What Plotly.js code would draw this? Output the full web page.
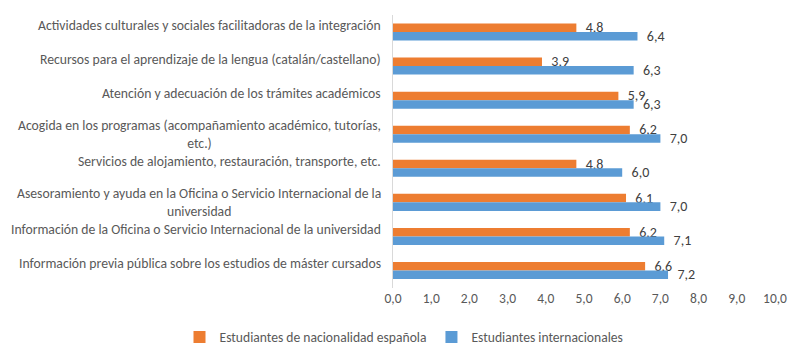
<!DOCTYPE html>
<html>
<head>
<meta charset="utf-8">
<script src="https://cdn.plot.ly/plotly-3.0.1.min.js"></script>
<style>html,body{margin:0;padding:0;background:#fff;}#chart{width:800px;height:350px;}</style>
</head>
<body>
<div id="chart"></div>
<script>
const categories = [
  "Actividades culturales y sociales facilitadoras de la integración",
  "Recursos para el aprendizaje de la lengua (catalán/castellano)",
  "Atención y adecuación de los trámites académicos",
  "Acogida en los programas (acompañamiento académico, tutorías, etc.)",
  "Servicios de alojamiento, restauración, transporte, etc.",
  "Asesoramiento y ayuda en la Oficina o Servicio Internacional de la universidad",
  "Información de la Oficina o Servicio Internacional de la universidad",
  "Información previa pública sobre los estudios de máster cursados"
];
const categoryLabels = [
  "Actividades culturales y sociales facilitadoras de la integración",
  "Recursos para el aprendizaje de la lengua (catalán/castellano)",
  "Atención y adecuación de los trámites académicos",
  "Acogida en los programas (acompañamiento académico, tutorías,<br>etc.)",
  "Servicios de alojamiento, restauración, transporte, etc.",
  "Asesoramiento y ayuda en la Oficina o Servicio Internacional de la<br>universidad",
  "Información de la Oficina o Servicio Internacional de la universidad",
  "Información previa pública sobre los estudios de máster cursados"
];
const seriesNames = ["Estudiantes de nacionalidad española", "Estudiantes internacionales"];
const spanish = [4.8, 3.9, 5.9, 6.2, 4.8, 6.1, 6.2, 6.6];
const international = [6.4, 6.3, 6.3, 7.0, 6.0, 7.0, 7.1, 7.2];
const xTicks = [0, 1, 2, 3, 4, 5, 6, 7, 8, 9, 10];

const FONT = "Carlito, Lato, 'Open Sans', sans-serif";
const barCommon = {
  type: 'bar', orientation: 'h',
  textposition: 'outside', constraintext: 'none', cliponaxis: false,
  texttemplate: '\u00a0\u00a0%{x:.1f}',
  textfont: {family: FONT, size: 14, color: '#404040'},
  hoverinfo: 'none'
};
const traces = [
  Object.assign({}, barCommon, {name: seriesNames[0], y: categories, x: spanish, marker: {color: '#ED7D31'}}),
  Object.assign({}, barCommon, {name: seriesNames[1], y: categories, x: international, marker: {color: '#5B9BD5'}})
];

const annotations = categories.map((c, i) => ({
  xref: 'x', yref: 'y', x: 0, y: c,
  text: categoryLabels[i], showarrow: false,
  xanchor: 'right', yanchor: 'middle', align: 'center',
  xshift: -10, yshift: categoryLabels[i].includes('<br>') ? 0 : 7,
  font: {family: FONT, size: 13.7, color: '#595959'}
}));

const layout = {
  width: 800, height: 350,
  margin: {l: 0, r: 0, t: 15, b: 62},
  paper_bgcolor: '#ffffff', plot_bgcolor: '#ffffff',
  separators: ',.',
  barmode: 'group', bargap: 0.5, bargroupgap: 0,
  font: {family: FONT, color: '#595959'},
  xaxis: {
    domain: [393 / 800, 775 / 800],
    range: [0, 10], tickvals: xTicks, tickformat: '.1f',
    showgrid: false, zeroline: false, showline: false, ticks: '',
    tickfont: {family: FONT, size: 13.5, color: '#595959'}, fixedrange: true
  },
  yaxis: {
    autorange: 'reversed', type: 'category',
    showticklabels: false, showgrid: false, zeroline: false,
    showline: true, linecolor: '#d9d9d9', linewidth: 1, ticks: '', fixedrange: true
  },
  showlegend: true,
  legend: {
    orientation: 'h', xref: 'container', yref: 'container',
    x: 0.505, xanchor: 'center', y: 0.037, yanchor: 'middle',
    font: {family: FONT, size: 13.6, color: '#595959'},
    itemwidth: 30, traceorder: 'normal'
  },
  annotations: annotations
};
Plotly.newPlot('chart', traces, layout, {displayModeBar: false, staticPlot: true});
</script>
</body>
</html>
